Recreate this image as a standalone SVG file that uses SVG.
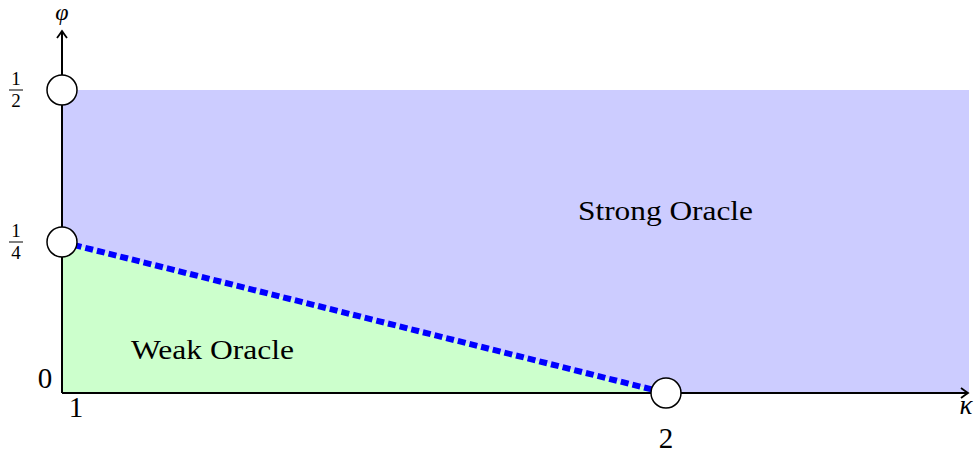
<svg xmlns="http://www.w3.org/2000/svg" width="977" height="456" viewBox="0 0 977 456">
<defs>
<style>
text{font-family:"Liberation Serif","DejaVu Serif",serif;fill:#000}
.lbl{font-size:27px}
.num{font-size:29px}
.frac{font-size:19px}
.ax{stroke:#000;stroke-width:2;fill:none}
.pt{fill:#fff;stroke:#000;stroke-width:1.5}
</style>
<marker id="arr" markerWidth="12" markerHeight="12" refX="9" refY="6" orient="auto" markerUnits="userSpaceOnUse">
<path d="M2,1 Q6,4 9,6 Q6,8 2,11" fill="none" stroke="#000" stroke-width="1.8"/>
</marker>
</defs>
<g id="strong-region">
<rect x="62" y="90" width="907" height="303" fill="#ccccff"/>
</g>
<g id="weak-region">
<polygon points="62,242 62,393 666,393" fill="#ccffcc"/>
</g>
<g id="connectors">
<line class="ax" x1="62" y1="393" x2="62" y2="31" marker-end="url(#arr)"/>
<line class="ax" x1="62" y1="393" x2="968" y2="393" marker-end="url(#arr)"/>
<line x1="62" y1="242" x2="666" y2="393" stroke="#0000ff" stroke-width="6" stroke-dasharray="8,4"/>
</g>
<g id="p-half"><circle class="pt" cx="62" cy="90" r="15"/></g>
<g id="p-quarter"><circle class="pt" cx="62" cy="242" r="15"/></g>
<g id="p-two"><circle class="pt" cx="666" cy="393" r="15"/></g>
<g id="labels">
<text x="62" y="20" text-anchor="middle" font-style="italic" font-size="24">φ</text>
<text class="lbl" x="966" y="414" text-anchor="middle" font-style="italic">κ</text>
<text class="frac" x="16" y="85" text-anchor="middle">1</text>
<line x1="9" y1="90" x2="23" y2="90" stroke="#000" stroke-width="1"/>
<text class="frac" x="16" y="107" text-anchor="middle">2</text>
<text class="frac" x="16" y="237" text-anchor="middle">1</text>
<line x1="9" y1="242" x2="23" y2="242" stroke="#000" stroke-width="1"/>
<text class="frac" x="16" y="259" text-anchor="middle">4</text>
<text class="num" x="45" y="388" text-anchor="middle">0</text>
<text class="num" x="76" y="417" text-anchor="middle">1</text>
<text class="num" x="666" y="448" text-anchor="middle">2</text>
<text class="lbl" x="578" y="220" textLength="175" lengthAdjust="spacingAndGlyphs">Strong Oracle</text>
<text class="lbl" x="131" y="359" textLength="163" lengthAdjust="spacingAndGlyphs">Weak Oracle</text>
</g>
</svg>
